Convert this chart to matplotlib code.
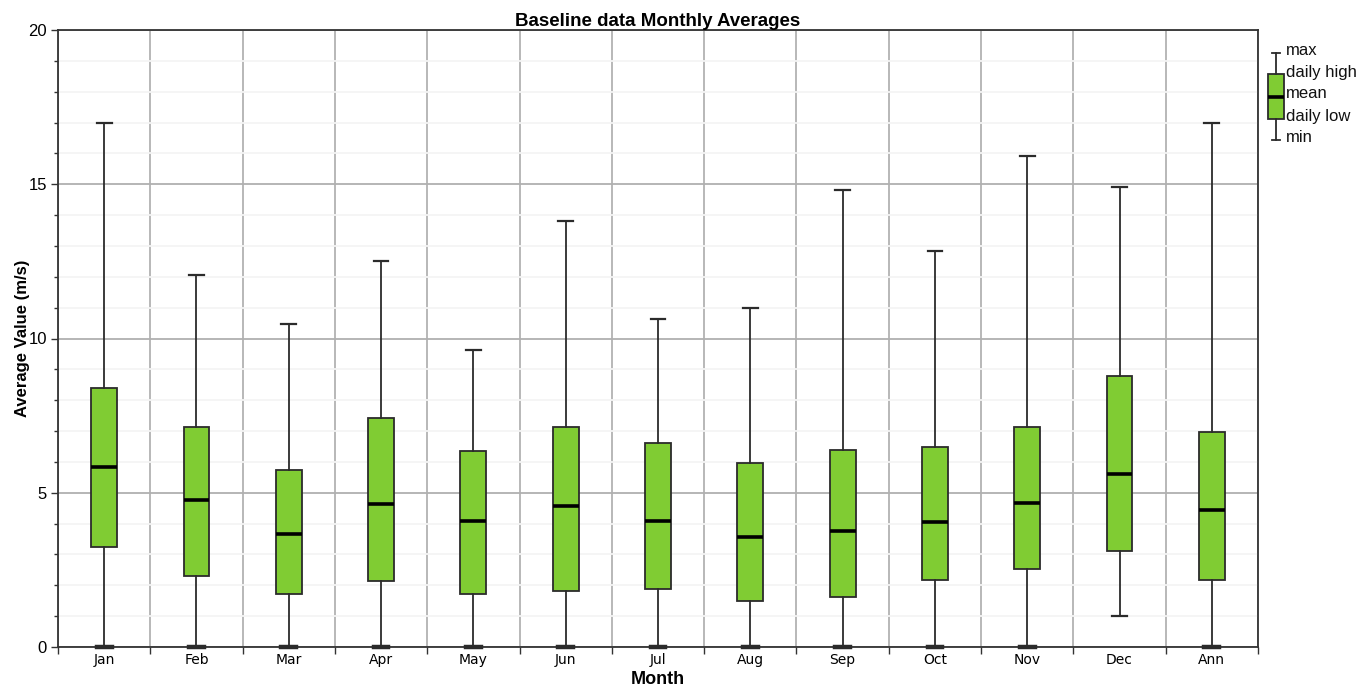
import matplotlib
matplotlib.use("Agg")
import matplotlib.pyplot as plt
from matplotlib.ticker import MultipleLocator, FixedLocator, NullFormatter

months = ["Jan", "Feb", "Mar", "Apr", "May", "Jun", "Jul", "Aug", "Sep", "Oct", "Nov", "Dec", "Ann"]
v_max = [17.0, 12.05, 10.48, 12.5, 9.63, 13.8, 10.62, 11.0, 14.8, 12.85, 15.9, 14.9, 17.0]
v_high = [8.41, 7.12, 5.75, 7.41, 6.36, 7.12, 6.60, 5.97, 6.40, 6.49, 7.12, 8.79, 6.98]
v_mean = [5.84, 4.75, 3.65, 4.65, 4.08, 4.57, 4.08, 3.57, 3.75, 4.04, 4.67, 5.62, 4.43]
v_low = [3.25, 2.29, 1.72, 2.15, 1.72, 1.82, 1.87, 1.49, 1.62, 2.16, 2.53, 3.11, 2.16]
v_min = [0, 0, 0, 0, 0, 0, 0, 0, 0, 0, 0, 1.0, 0]

legend_labels = ["max", "daily high", "mean", "daily low", "min"]

green = "#80cc33"
edge = "#2b2b2b"
W, H = 1369, 688

fig = plt.figure(figsize=(W / 100, H / 100), dpi=100)
ax = fig.add_axes([58 / W, 1 - 647 / H, 1200 / W, 617 / H])

stats = []
for i, m in enumerate(months):
    stats.append(dict(label=m, whislo=v_min[i], q1=v_low[i], med=v_mean[i],
                      q3=v_high[i], whishi=v_max[i]))

pos = list(range(len(months)))
bp = ax.bxp(stats, positions=pos, widths=0.28, capwidths=0.16, patch_artist=True,
            showfliers=False, manage_ticks=False,
            boxprops=dict(facecolor=green, edgecolor=edge, linewidth=1.3),
            medianprops=dict(color="black", linewidth=2.6),
            whiskerprops=dict(color=edge, linewidth=1.3),
            capprops=dict(color=edge, linewidth=1.6))
for art in bp["boxes"] + bp["medians"] + bp["whiskers"] + bp["caps"]:
    art.set_zorder(3)
for c in bp["caps"]:
    c.set_clip_on(False)
    c.set_zorder(4)
    if c.get_ydata()[0] == 0:
        c.set_linewidth(3.2)

ax.set_xlim(-0.5, len(months) - 0.5)
ax.set_ylim(0, 20)

# category boundaries as vertical grid
ax.xaxis.set_major_locator(FixedLocator([p - 0.5 for p in range(len(months) + 1)]))
ax.xaxis.set_major_formatter(NullFormatter())
ax.xaxis.set_minor_locator(FixedLocator(pos))
ax.set_xticklabels(months, minor=True, fontsize=10, family="DejaVu Sans")
ax.tick_params(axis="x", which="major", length=5, width=1, color="#333333", direction="out")
ax.tick_params(axis="x", which="minor", length=0, pad=4)
ax.grid(axis="x", which="major", color="#ababab", linewidth=1.2, zorder=1)

ax.yaxis.set_major_locator(MultipleLocator(5))
ax.yaxis.set_minor_locator(MultipleLocator(1))
ax.tick_params(axis="y", which="major", length=5, width=1, color="#333333", labelsize=12, pad=3)
ax.tick_params(axis="y", which="minor", length=3, width=1, color="#333333")
ax.grid(axis="y", which="major", color="#b0b0b0", linewidth=1.3, zorder=1)
ax.grid(axis="y", which="minor", color="#f4f4f4", linewidth=1.3, zorder=0)
ax.set_axisbelow(True)
for lab in ax.get_yticklabels():
    lab.set_family("Liberation Sans")

for s in ax.spines.values():
    s.set_color("#333333")
    s.set_linewidth(1.3)

ax.set_title("Baseline data Monthly Averages", fontsize=13.5, fontweight="bold",
             family="Liberation Sans", pad=3)
ax.set_xlabel("Month", fontsize=13, fontweight="bold", family="Liberation Sans", labelpad=3)
ax.set_ylabel("Average Value (m/s)", fontsize=12, fontweight="bold", family="Liberation Sans",
              labelpad=-1)

# legend glyph on the right, in pixel coordinates
lax = fig.add_axes([1262 / W, 1 - 150 / H, 107 / W, 110 / H])
lax.set_xlim(1262, 1369)
lax.set_ylim(150, 40)
lax.axis("off")
lax.bxp([dict(whislo=140, q1=119, med=97, q3=74, whishi=53)], positions=[1276], widths=16,
        capwidths=8, patch_artist=True, showfliers=False, manage_ticks=False,
        boxprops=dict(facecolor=green, edgecolor=edge, linewidth=1.3),
        medianprops=dict(color="black", linewidth=2.6),
        whiskerprops=dict(color=edge, linewidth=1.3),
        capprops=dict(color=edge, linewidth=1.3))
for lab, y in zip(legend_labels, [50.5, 72.5, 93.5, 116, 138]):
    lax.text(1286, y, lab, fontsize=12, family="Liberation Sans", va="center", ha="left",
             color="#111111")

fig.savefig("out.png", dpi=100)
